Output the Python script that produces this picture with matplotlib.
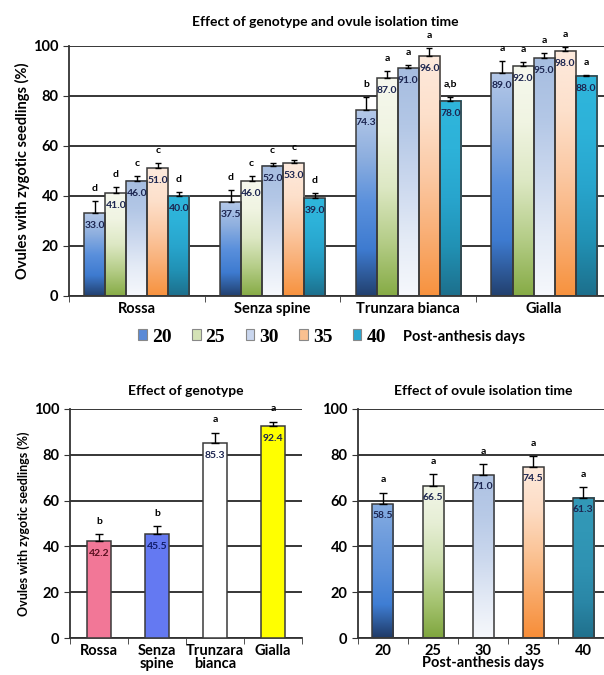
import numpy as np
import matplotlib
matplotlib.use("Agg")
import matplotlib.pyplot as plt
from matplotlib.colors import LinearSegmentedColormap
from matplotlib.patches import Patch

plt.rcParams['font.family'] = ['Lato', 'DejaVu Sans']
plt.rcParams['font.weight'] = 'bold'
plt.rcParams['axes.labelweight'] = 'bold'
plt.rcParams['axes.titleweight'] = 'bold'

# ---- data ----
genotypes = ['Rossa', 'Senza spine', 'Trunzara bianca', 'Gialla']
days = ['20', '25', '30', '35', '40']

# genotype x day (one list per day, values per genotype)
val_d20 = [33.0, 37.5, 74.3, 89.0]
val_d25 = [41.0, 46.0, 87.0, 92.0]
val_d30 = [46.0, 52.0, 91.0, 95.0]
val_d35 = [51.0, 53.0, 96.0, 98.0]
val_d40 = [40.0, 39.0, 78.0, 88.0]
err_d20 = [5.0, 5.0, 5.2, 5.0]
err_d25 = [2.6, 2.0, 3.0, 1.5]
err_d30 = [2.0, 1.3, 1.5, 2.3]
err_d35 = [2.0, 1.5, 3.0, 1.5]
err_d40 = [1.5, 2.0, 1.7, 0.5]
let_d20 = ['d', 'd', 'b', 'a']
let_d25 = ['d', 'c', 'a', 'a']
let_d30 = ['c', 'c', 'a', 'a']
let_d35 = ['c', 'c', 'a', 'a']
let_d40 = ['d', 'd', 'a,b', 'a']

geno_labels = ['Rossa', 'Senza\nspine', 'Trunzara\nbianca', 'Gialla']
geno_vals = [42.2, 45.5, 85.3, 92.4]
geno_err = [3.2, 3.4, 4.4, 2.1]
geno_let = ['b', 'b', 'a', 'a']
geno_colors = ['#f27797', '#6479f2', '#ffffff', '#ffff00']

time_vals = [58.5, 66.5, 71.0, 74.5, 61.3]
time_err = [5.0, 5.1, 5.0, 5.1, 4.8]
time_let = ['a', 'a', 'a', 'a', 'a']

# gradients, bottom -> top
grad_cols = [
    ['#22406e', '#3e7bd0', '#5a90dc', '#8eafdf', '#b4c8e8'],
    ['#86ab45', '#b5cd88', '#dde8c4', '#f0f4e2', '#f6f8ee'],
    ['#f6f8fc', '#e4ebf6', '#cbd8ee', '#b3c7e6', '#a6bde0'],
    ['#f7923e', '#f9ae74', '#fbc9a4', '#fde0cb', '#fdeadd'],
    ['#1d6f8c', '#2191b4', '#28a5cd', '#2db2d9', '#2fb6dc'],
]
grad_cols_b = [
    ['#1f3a66', '#3f7ed4', '#5a8fd9', '#6f9ddd', '#86ade2'],
    ['#7fa63e', '#a8c574', '#cddfae', '#e6eed5', '#f2f6e8'],
    ['#f6f8fc', '#e2e9f5', '#cad7ed', '#b8cae7', '#aec2e3'],
    ['#f78d38', '#f9a866', '#fbc497', '#fddcc4', '#feeadc'],
    ['#20708c', '#2a86a6', '#2f92b2', '#3197b6', '#3399b8'],
]
legend_cols = ['#5b8ad6', '#d4e2b6', '#c9d6ee', '#fac090', '#2ba6cf']
cmaps = [LinearSegmentedColormap.from_list('g%d' % i, c) for i, c in enumerate(grad_cols)]
cmaps_b = [LinearSegmentedColormap.from_list('gb%d' % i, c) for i, c in enumerate(grad_cols_b)]

VAL_COL = '#1c2550'
EDGE = '#3a3a3a'


def fill_grad(ax, bars, cmap):
    grad = np.linspace(0, 1, 256).reshape(-1, 1)
    for b in bars:
        x, w, h = b.get_x(), b.get_width(), b.get_height()
        ax.imshow(grad, extent=[x, x + w, 0, h], origin='lower', cmap=cmap,
                  aspect='auto', zorder=2, interpolation='bilinear')


def style_ax(ax, n):
    ax.set_ylim(0, 100)
    ax.set_yticks([0, 20, 40, 60, 80, 100])
    ax.yaxis.grid(True, color='black', lw=1.1)
    ax.set_axisbelow(True)
    for s in ['top', 'right']:
        ax.spines[s].set_visible(False)
    ax.spines['left'].set_color('#333333')
    ax.spines['bottom'].set_color('#333333')
    ax.spines['left'].set_linewidth(1.3)
    ax.spines['bottom'].set_linewidth(1.3)
    ax.set_xlim(-0.5, n - 0.5)
    ax.set_xticks(np.arange(n))
    ax.set_xticks(np.arange(n + 1) - 0.5, minor=True)
    ax.tick_params(axis='x', which='major', length=0, labelsize=10.5, pad=4)
    ax.tick_params(axis='x', which='minor', length=4, direction='out', color='#333333')
    ax.tick_params(axis='y', length=4, labelsize=10.5, color='#333333')


fig = plt.figure(figsize=(6.04, 6.75), dpi=100)

# ---- top chart ----
ax1 = fig.add_axes([0.1142, 0.5615, 0.899, 0.3704])
style_ax(ax1, 4)
vals = [val_d20, val_d25, val_d30, val_d35, val_d40]
errs = [err_d20, err_d25, err_d30, err_d35, err_d40]
lets = [let_d20, let_d25, let_d30, let_d35, let_d40]
bw = 0.155
x = np.arange(len(genotypes))
for i in range(5):
    xs = x + (i - 2) * bw
    bars = ax1.bar(xs, vals[i], bw, facecolor='none', edgecolor=EDGE, lw=1.1, zorder=3)
    fill_grad(ax1, bars, cmaps[i])
    ax1.errorbar(xs, vals[i], yerr=[np.zeros(4), errs[i]], fmt='none', ecolor='black',
                 elinewidth=1, capsize=2.5, capthick=1, zorder=4)
    for xx, v, e, l in zip(xs, vals[i], errs[i], lets[i]):
        ax1.text(xx, v - 5, '%.1f' % v, ha='center', va='center', fontsize=7.5,
                 color=VAL_COL, zorder=5)
        ax1.text(xx, v + e + 5, l, ha='center', va='center', fontsize=7.5, color='black')
ax1.set_xlim(-0.5, 3.5)
ax1.set_ylim(0, 100)
ax1.set_xticklabels(genotypes)
ax1.set_ylabel('Ovules with zygotic seedlings (%)', fontsize=10.5, labelpad=2)
fig.text(0.538, 0.967, 'Effect of genotype and ovule isolation time', ha='center',
         va='center', fontsize=10)

# legend
handles = [Patch(facecolor=c, edgecolor='#888888', lw=0.8) for c in legend_cols]
leg = fig.legend(handles, days, loc='center left', bbox_to_anchor=(0.229, 0.5007), ncol=5,
                 frameon=False, handlelength=0.45, handleheight=0.45, handletextpad=0.25,
                 columnspacing=1.05, borderpad=0, borderaxespad=0,
                 prop={'family': 'Liberation Serif', 'weight': 'bold', 'size': 14})
fig.text(0.667, 0.5007, 'Post-anthesis days', ha='left', va='center', fontsize=10.5)

# ---- bottom left ----
ax2 = fig.add_axes([0.1159, 0.0548, 0.384, 0.3393])
style_ax(ax2, 4)
xg = np.arange(len(geno_vals))
bars = ax2.bar(xg, geno_vals, 0.41, color=geno_colors, edgecolor=EDGE, lw=1.1, zorder=3)
ax2.errorbar(xg, geno_vals, yerr=[np.zeros(4), geno_err], fmt='none', ecolor='black',
             elinewidth=1, capsize=3, capthick=1, zorder=4)
val_cols = ['#5a1020', '#101c6a', '#1c2550', '#1c2550']
for xx, v, e, l, vc in zip(xg, geno_vals, geno_err, geno_let, val_cols):
    ax2.text(xx, v - 5.5, '%.1f' % v, ha='center', va='center', fontsize=7.5, color=vc, zorder=5)
    ax2.text(xx, v + e + 5.5, l, ha='center', va='center', fontsize=7.5, color='black')
ax2.set_xticklabels(geno_labels, linespacing=0.95)
ax2.set_ylabel('Ovules with zygotic seedlings (%)', fontsize=9, labelpad=3)
ax2.set_title('Effect of genotype', fontsize=10, pad=10)

# ---- bottom right ----
ax3 = fig.add_axes([0.5927, 0.0548, 0.414, 0.3393])
style_ax(ax3, 5)
xt = np.arange(len(time_vals))
bars = ax3.bar(xt, time_vals, 0.42, facecolor='none', edgecolor=EDGE, lw=1.1, zorder=3)
for b, cm in zip(bars, cmaps_b):
    fill_grad(ax3, [b], cm)
ax3.errorbar(xt, time_vals, yerr=[np.zeros(5), time_err], fmt='none', ecolor='black',
             elinewidth=1, capsize=3, capthick=1, zorder=4)
for xx, v, e, l in zip(xt, time_vals, time_err, time_let):
    ax3.text(xx, v - 5, '%.1f' % v, ha='center', va='center', fontsize=7.5, color=VAL_COL, zorder=5)
    ax3.text(xx, v + e + 5.5, l, ha='center', va='center', fontsize=7.5, color='black')
ax3.set_xlim(-0.5, 4.5)
ax3.set_ylim(0, 100)
ax3.set_xticklabels(days)
ax3.set_xlabel('Post-anthesis days', fontsize=10.5, labelpad=-1)
ax3.set_title('Effect of ovule isolation time', fontsize=10, pad=10)

fig.savefig('out.png', dpi=100)
